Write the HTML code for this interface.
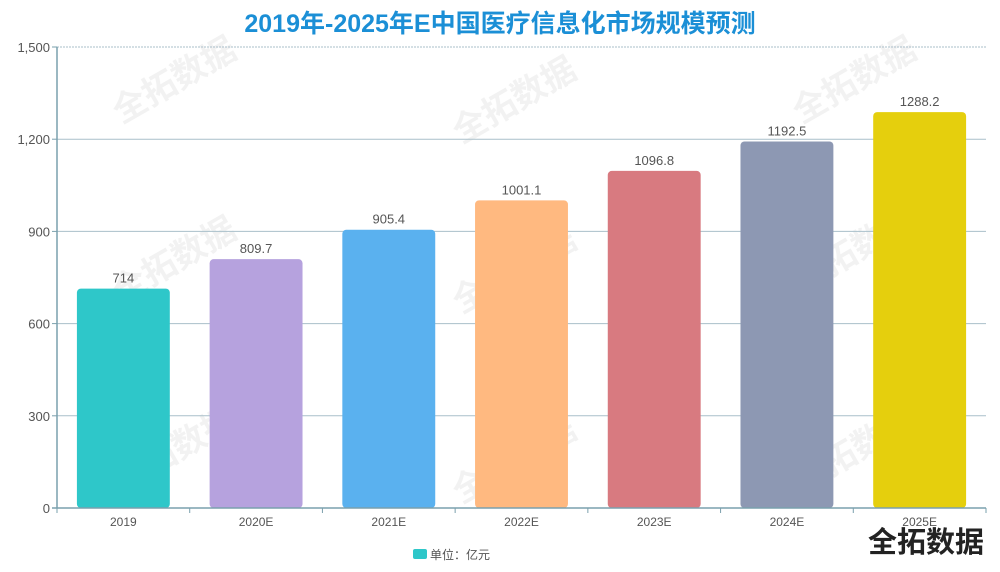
<!DOCTYPE html>
<html><head><meta charset="utf-8">
<style>
body{margin:0;background:#fff;width:1000px;height:572px;overflow:hidden;font-family:"Liberation Sans","Noto Sans CJK SC",sans-serif;}
#title{position:absolute;left:0;top:4px;width:1000px;text-align:center;font-size:25px;font-weight:bold;color:#1b8fd6;}
svg{position:absolute;left:0;top:0;}
</style></head><body>
<div id="title">2019年-2025年E中国医疗信息化市场规模预测</div>
<svg id="chart" width="1000" height="572"></svg>
<script>
const categories=["2019","2020E","2021E","2022E","2023E","2024E","2025E"];
const values=[714,809.7,905.4,1001.1,1096.8,1192.5,1288.2];
const labels=["714","809.7","905.4","1001.1","1096.8","1192.5","1288.2"];
const colors=["#2ec7c9","#b6a2de","#5ab1ef","#ffb980","#d87a80","#8d98b3","#e5cf0d"];
const yTicks=[0,300,600,900,1200,1500];
const yTickLabels=["0","300","600","900","1,200","1,500"];
const NS="http://www.w3.org/2000/svg";
const svg=document.getElementById('chart');
const L=57,R=986,T=47,B=508,yMax=1500;
const y=v=>B-(v/yMax)*(B-T);
const band=(R-L)/categories.length;
const x=i=>L+band*i;
function mk(t,a){const e=document.createElementNS(NS,t);for(const k in a)e.setAttribute(k,a[k]);svg.appendChild(e);return e;}
[[180,90],[520,110],[860,90],[180,270],[520,280],[860,260],[180,460],[520,470],[860,460]].forEach(p=>{
 const w=mk('text',{x:p[0],y:p[1],'font-size':34,'font-weight':'bold',fill:'#000','fill-opacity':0.05,'text-anchor':'middle',transform:`rotate(-30 ${p[0]} ${p[1]})`});
 w.textContent='全拓数据';
 
 
});
yTicks.forEach((v,i)=>{
 const yy=y(v);
 if(v>0){const g=mk('line',{x1:L,x2:R,y1:yy,y2:yy,stroke:'#a9bfca','stroke-width':1,'stroke-dasharray':v===1500?'2,1':'none'});
 }
 mk('line',{x1:L-5,x2:L,y1:yy,y2:yy,stroke:'#7aa0ad'});
 const t=mk('text',{x:L-7,y:yy+5,'font-size':13,fill:'#555','text-anchor':'end'});
 t.textContent=yTickLabels[i];
 
});
const ax=mk('line',{x1:L,x2:L,y1:T,y2:B,stroke:'#7aa0ad','stroke-width':1.5});

categories.forEach((c,i)=>{
 const bw=band*0.7,bx=x(i)+band*0.15,top=y(values[i]),h=B-top;
 const r=mk('rect',{x:bx,y:top,width:bw,height:h,rx:4,ry:4,fill:colors[i]});
 
 const lt=mk('text',{x:bx+bw/2,y:top-6,'font-size':13,fill:'#555','text-anchor':'middle'});
 lt.textContent=labels[i];
 
 const ct=mk('text',{x:bx+bw/2,y:B+18,'font-size':12,fill:'#555','text-anchor':'middle'});
 ct.textContent=c;
 
 mk('line',{x1:x(i),x2:x(i),y1:B,y2:B+5,stroke:'#7aa0ad'});
});
mk('line',{x1:R,x2:R,y1:B,y2:B+5,stroke:'#7aa0ad'});
const xa=mk('line',{x1:L-5,x2:R,y1:B,y2:B,stroke:'#7aa0ad','stroke-width':1.5});

const lg=mk('rect',{x:413,y:549,width:14,height:10,rx:2,fill:'#2ec7c9'});

const lt=mk('text',{x:430,y:559,'font-size':12,fill:'#555'});
lt.textContent='单位：亿元';

const wm=mk('text',{x:926,y:552,'font-size':29,'font-weight':'bold',fill:'#222','text-anchor':'middle'});
wm.textContent='全拓数据';

</script>
</body></html>
